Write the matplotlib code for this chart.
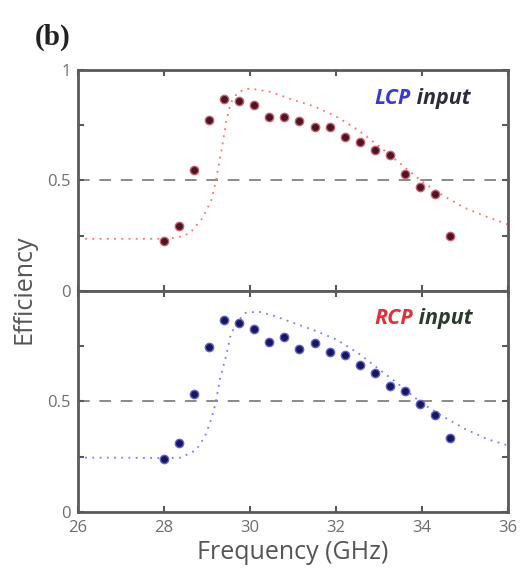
import matplotlib.pyplot as plt
import numpy as np

FONT = 'Open Sans'
AXIS_GRAY = '#5a5a5a'
TICK_GRAY = '#6e6e6e'

# measured frequencies (GHz)
freq = [28.0, 28.35, 28.7, 29.05, 29.4, 29.75, 30.1, 30.45, 30.8, 31.15,
        31.5, 31.85, 32.2, 32.55, 32.9, 33.25, 33.6, 33.95, 34.3, 34.65]

# measured efficiency, LCP input
eff_lcp = [0.224, 0.294, 0.549, 0.773, 0.871, 0.860, 0.841, 0.788, 0.788, 0.770,
           0.740, 0.742, 0.697, 0.674, 0.636, 0.614, 0.530, 0.470, 0.436, 0.250]

# measured efficiency, RCP input
eff_rcp = [0.241, 0.312, 0.535, 0.747, 0.867, 0.852, 0.825, 0.769, 0.790, 0.738,
           0.765, 0.724, 0.709, 0.662, 0.629, 0.568, 0.546, 0.486, 0.436, 0.333]

# simulated curves
sim_freq_lcp = [26.0, 27.0, 28.0, 28.3, 28.6, 28.9, 29.1, 29.2, 29.35, 29.45, 29.55, 29.7, 29.85,
                30.0, 30.5, 31.0, 31.5, 32.0, 32.5, 33.0, 33.5, 34.0, 34.5, 35.0, 35.5, 36.0]
sim_lcp = [0.235, 0.235, 0.235, 0.24, 0.26, 0.33, 0.41, 0.49, 0.65, 0.77, 0.85, 0.895, 0.91,
           0.917, 0.90, 0.865, 0.835, 0.79, 0.73, 0.655, 0.575, 0.495, 0.43, 0.375, 0.335, 0.30]

sim_freq_rcp = [26.0, 27.0, 28.0, 28.4, 28.75, 28.95, 29.1, 29.2, 29.3, 29.45, 29.55, 29.7, 29.9,
                30.2, 30.5, 31.0, 31.5, 32.0, 32.5, 33.0, 33.5, 34.0, 34.5, 35.0, 35.5, 36.0]
sim_rcp = [0.245, 0.245, 0.243, 0.245, 0.28, 0.34, 0.42, 0.49, 0.60, 0.71, 0.80, 0.86, 0.90,
           0.905, 0.89, 0.855, 0.82, 0.78, 0.72, 0.645, 0.57, 0.49, 0.43, 0.375, 0.33, 0.30]

x_ticks = [26, 28, 30, 32, 34, 36]


def style_axes(ax, ylabels):
    ax.set_xlim(26, 36)
    ax.set_ylim(0, 1)
    for s in ax.spines.values():
        s.set_color(AXIS_GRAY)
        s.set_linewidth(2.0)
    ax.set_xticks(x_ticks)
    ax.set_yticks([0, 0.25, 0.5, 0.75, 1])
    ax.set_yticklabels(ylabels)
    ax.tick_params(direction='in', top=True, right=True, length=4, width=1.5,
                   color=AXIS_GRAY, labelcolor=TICK_GRAY, labelsize=12)
    ax.tick_params(axis='x', pad=6)
    ax.tick_params(axis='y', pad=5)
    for lab in ax.get_xticklabels() + ax.get_yticklabels():
        lab.set_family(FONT)
    ax.axhline(0.5, color='#8a8a8a', lw=1.4, ls=(0, (6, 5)), zorder=1)


def draw_panel(ax, sim_f, sim_e, eff, line_col, face_col, edge_col):
    ax.plot(sim_f, sim_e, color=line_col, lw=1.3, ls=(0, (1, 3)), zorder=2)
    ax.plot(freq, eff, ls='none', marker='o', ms=6, mfc=face_col,
            mec=edge_col, mew=1.0, zorder=3)


def caption(ax, word, word_col, tail_col):
    t = ax.text(0.69, 0.873, word, transform=ax.transAxes, color=word_col,
                fontsize=15.5, fontweight='bold', style='italic', family=FONT,
                ha='left', va='center')
    ax.annotate(' input', xycoords=t, xy=(1, 0.5), va='center', ha='left',
                color=tail_col, fontsize=15.5, fontweight='bold', style='italic',
                family=FONT)


fig = plt.figure(figsize=(5.27, 5.79), dpi=100)
ax_top = fig.add_axes([0.148, 0.498, 0.816, 0.381])
ax_bot = fig.add_axes([0.148, 0.116, 0.816, 0.382])

draw_panel(ax_top, sim_freq_lcp, sim_lcp, eff_lcp, '#ff6f6f', '#4e1424', '#c9606f')
draw_panel(ax_bot, sim_freq_rcp, sim_rcp, eff_rcp, '#7a7aff', '#18165e', '#6262cc')

style_axes(ax_top, ['0', '', '0.5', '', '1'])
style_axes(ax_bot, ['0', '', '0.5', '', ''])
ax_top.set_xticklabels([])

caption(ax_top, 'LCP', '#3a3ad0', '#2b2b3a')
caption(ax_bot, 'RCP', '#e0303a', '#2a3a2a')

ax_bot.set_xlabel('Frequency (GHz)', family=FONT, fontsize=18, color='#555555', labelpad=3)
fig.text(0.046, 0.50, 'Efficiency', rotation=90, family=FONT, fontsize=18,
         color='#555555', ha='center', va='center')
fig.text(0.066, 0.936, '(b)', family='Liberation Serif', fontweight='bold',
         fontsize=21, color='#222222', ha='left', va='center')

fig.savefig('out.png', dpi=100)
